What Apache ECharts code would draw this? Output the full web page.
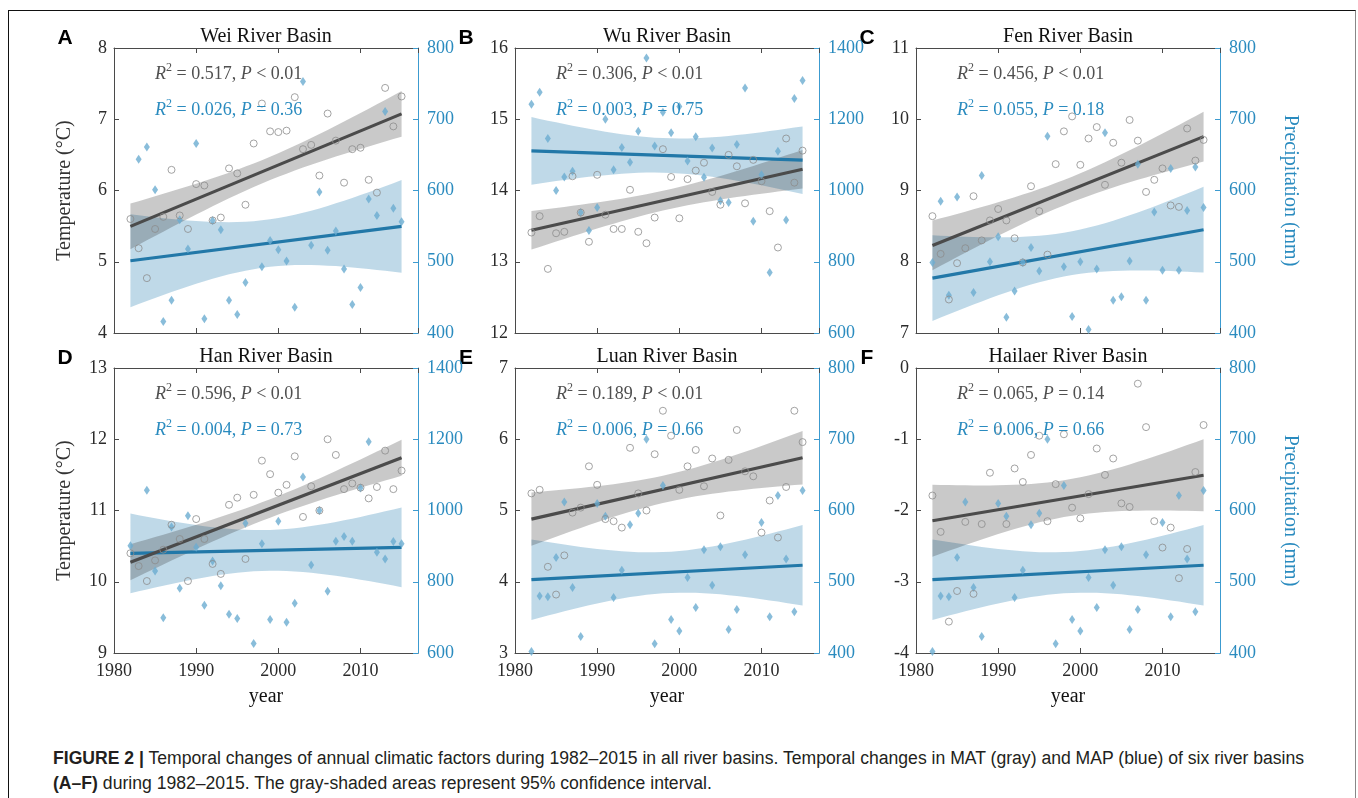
<!DOCTYPE html>
<html>
<head>
<meta charset="utf-8">
<script src="https://cdn.jsdelivr.net/npm/echarts@6/dist/echarts.min.js"></script>
<style>
    html, body { margin: 0; padding: 0; background: #fff; }
    #frame { position: absolute; left: 8px; top: 10px; width: 1346px; height: 820px;
        border-top: 1px solid #111; border-left: 1px solid #111; border-right: 1px solid #888; }
    #chart { position: absolute; left: 0; top: 0; width: 1358px; height: 720px; }
    #caption { position: absolute; left: 53px; top: 746px; white-space: nowrap;
        font-family: "Liberation Sans", Arial, sans-serif;
        font-size: 17.6px; line-height: 25px; color: #231f20; }
    #caption b { font-weight: bold; }
</style>
</head>
<body>
<div id="frame"></div>
<div id="chart"></div>
<div id="caption">
    <b>FIGURE 2 |</b> Temporal changes of annual climatic factors during 1982–2015 in all river basins. Temporal changes in MAT (gray) and MAP (blue) of six river basins<br>
    <b>(A–F)</b> during 1982–2015. The gray-shaded areas represent 95% confidence interval.
</div>
<script>
const years = [1982, 1983, 1984, 1985, 1986, 1987, 1988, 1989, 1990, 1991, 1992, 1993, 1994, 1995, 1996, 1997, 1998,
    1999, 2000, 2001, 2002, 2003, 2004, 2005, 2006, 2007, 2008, 2009, 2010, 2011, 2012, 2013, 2014, 2015];

// mean annual temperature (°C)
const tempWei = [5.60, 5.19, 4.77, 5.46, 5.63, 6.29, 5.65, 5.46, 6.09, 6.07, 5.58, 5.62, 6.31, 6.24, 5.80, 6.66, 7.22,
    6.83, 6.82, 6.84, 7.31, 6.58, 6.64, 6.21, 7.08, 6.70, 6.11, 6.58, 6.60, 6.15, 5.97, 7.44, 6.90, 7.32];
const tempWu = [13.41, 13.64, 12.90, 13.40, 13.42, 14.20, 13.69, 13.28, 14.22, 13.66, 13.46, 13.46, 14.01, 13.42, 13.26, 13.62, 14.58,
    14.19, 13.61, 14.16, 14.28, 14.39, 13.98, 13.80, 14.50, 14.34, 13.82, 14.43, 14.13, 13.71, 13.20, 14.73, 14.11, 14.56];
const tempFen = [8.64, 8.11, 7.47, 7.98, 8.19, 8.92, 8.30, 8.58, 8.74, 8.58, 8.33, 7.99, 9.06, 8.71, 8.10, 9.37, 9.83,
    10.04, 9.36, 9.73, 9.89, 9.08, 9.67, 9.39, 9.99, 9.70, 8.98, 9.15, 9.31, 8.79, 8.77, 9.87, 9.42, 9.71];
const tempHan = [10.40, 10.22, 10.01, 10.30, 10.45, 10.80, 10.60, 10.01, 10.88, 10.60, 10.25, 10.11, 11.08, 11.18, 10.32, 11.22, 11.70,
    11.51, 11.25, 11.36, 11.76, 10.91, 11.34, 11.00, 12.00, 11.78, 11.30, 11.38, 11.32, 11.17, 11.33, 11.84, 11.30, 11.56];
const tempLuan = [5.24, 5.29, 4.21, 3.82, 4.37, 4.97, 5.04, 5.62, 5.36, 4.88, 4.85, 4.76, 5.88, 5.24, 5.00, 5.79, 6.40,
    6.05, 5.29, 5.62, 5.85, 5.34, 5.73, 4.93, 5.71, 6.13, 5.55, 5.48, 4.69, 5.14, 4.62, 5.33, 6.40, 5.96];
const tempHailaer = [-1.79, -2.30, -3.56, -3.13, -2.16, -3.17, -2.19, -1.47, -0.87, -2.19, -1.41, -1.60, -1.22, -0.95, -2.15, -1.63, -0.93,
    -1.96, -2.11, -1.77, -1.13, -1.50, -1.27, -1.90, -1.95, -0.22, -0.83, -2.15, -2.52, -2.24, -2.95, -2.54, -1.46, -0.80];

// mean annual precipitation (mm), a few years fall outside the plotted range
const precWei = [365, 644, 661, 601, 416, 446, 559, 518, 666, 420, 558, 545, 446, 426, 471, 326, 493,
    530, 517, 501, 436, 753, 523, 598, 516, 543, 490, 440, 464, 588, 565, 711, 575, 556];
const precWu = [1242, 1276, 1146, 1000, 1038, 1054, 938, 888, 952, 1200, 1058, 1121, 1079, 1166, 1372, 1125, 1220,
    1162, 1236, 1083, 1151, 1037, 1119, 971, 966, 1129, 1288, 914, 1044, 770, 1110, 917, 1258, 1309];
const precFen = [499, 585, 453, 591, 340, 457, 621, 500, 535, 422, 459, 499, 520, 487, 676, 300, 493,
    423, 500, 405, 490, 681, 446, 451, 501, 637, 446, 570, 488, 631, 488, 572, 633, 576];
const precHan = [901, 1420, 1057, 830, 699, 954, 782, 985, 897, 734, 858, 789, 709, 697, 964, 627, 907,
    694, 970, 686, 740, 1094, 847, 1000, 773, 914, 927, 914, 1063, 1193, 883, 864, 913, 907];
const precLuan = [402, 480, 479, 534, 612, 492, 423, 385, 610, 592, 478, 516, 580, 596, 700, 413, 635,
    447, 431, 506, 464, 545, 495, 549, 433, 461, 538, 373, 583, 451, 621, 532, 458, 628];
const precHailaer = [402, 480, 479, 534, 612, 492, 423, 385, 610, 592, 478, 516, 580, 596, 700, 413, 635,
    447, 431, 506, 464, 545, 495, 549, 433, 461, 538, 373, 583, 451, 621, 532, 458, 628];

const titles = ['Wei River Basin', 'Wu River Basin', 'Fen River Basin', 'Han River Basin', 'Luan River Basin', 'Hailaer River Basin'];
const letters = ['A', 'B', 'C', 'D', 'E', 'F'];
const tempR2 = ['0.517', '0.306', '0.456', '0.596', '0.189', '0.065'];
const tempP = ['< 0.01', '< 0.01', '< 0.01', '< 0.01', '< 0.01', '= 0.14'];
const precR2 = ['0.026', '0.003', '0.055', '0.004', '0.006', '0.006'];
const precP = ['= 0.36', '= 0.75', '= 0.18', '= 0.73', '= 0.66', '= 0.66'];
const tempRange = [[4, 8], [12, 16], [7, 11], [9, 13], [3, 7], [-4, 0]];
const precRange = [[400, 800], [600, 1400], [400, 800], [600, 1400], [400, 800], [400, 800]];
const precStep = [100, 200, 100, 200, 100, 100];
const yearTicks = [1980, 2017, 10];

const temps = [tempWei, tempWu, tempFen, tempHan, tempLuan, tempHailaer];
const precs = [precWei, precWu, precFen, precHan, precLuan, precHailaer];

const GRAY_LINE = '#4b4b4b', GRAY_PT = '#8c8c8c', GRAY_BAND = 'rgba(40,40,40,0.25)';
const BLUE_LINE = '#2278a8', BLUE_PT = '#6badd1', BLUE_BAND = 'rgba(60,140,185,0.33)';
const BLUE_TXT = '#2a8bbf', AXIS_BLUE = '#3c9bd0', AXIS_GRAY = '#4a4a4a', LABEL = '#2b2b2b';
const SERIF = '"Liberation Serif", "Times New Roman", serif';

const lefts = [114, 515, 916], tops = [48, 368], W = 304, H = 285;

// least squares fit + 95% confidence band of the mean, like the original regression plot
function fitLine (xs, ys) {
    const n = xs.length;
    const mx = xs.reduce((a, b) => a + b, 0) / n;
    const my = ys.reduce((a, b) => a + b, 0) / n;
    let sxx = 0, sxy = 0;
    xs.forEach(function (x, i) { sxx += (x - mx) * (x - mx); sxy += (x - mx) * (ys[i] - my); });
    const b = sxy / sxx, a = my - b * mx;
    let sse = 0;
    xs.forEach(function (x, i) { const r = ys[i] - (a + b * x); sse += r * r; });
    const s = Math.sqrt(sse / (n - 2));
    const t = 2.0369; // t(0.975, 32)
    return xs.map(function (x) {
        const yh = a + b * x;
        const h = t * s * Math.sqrt(1 / n + (x - mx) * (x - mx) / sxx);
        return [x, yh, yh - h, yh + h];
    });
}

function bandSeries (fit, gi, yi, color) {
    return {
        type: 'custom', xAxisIndex: gi * 2, yAxisIndex: yi, silent: true, clip: true, z: 1,
        data: fit.map(d => [d[0], d[2], d[3]]),
        encode: { x: 0, y: [1, 2] },
        renderItem: function (params, api) {
            if (params.dataIndex !== 0) return null;
            const pts = [];
            fit.forEach(d => pts.push(api.coord([d[0], d[2]])));
            fit.slice().reverse().forEach(d => pts.push(api.coord([d[0], d[3]])));
            return { type: 'polygon', shape: { points: pts }, style: { fill: color } };
        }
    };
}

const plain = v => String(v);
const grid = [], xAxis = [], yAxis = [], series = [], graphic = [];

for (let i = 0; i < 6; i++) {
    const row = Math.floor(i / 3), col = i % 3;
    const left = lefts[col], top = tops[row];
    grid.push({ left: left, top: top, width: W, height: H });

    const xBase = {
        gridIndex: i, type: 'value', min: yearTicks[0], max: yearTicks[1], interval: yearTicks[2],
        splitLine: { show: false },
        axisLine: { show: true, onZero: false, lineStyle: { color: AXIS_GRAY, width: 1 } },
        axisTick: { show: true, inside: true, length: 5, lineStyle: { color: AXIS_GRAY } }
    };
    xAxis.push(Object.assign({}, xBase, {
        position: 'bottom',
        axisLabel: { show: row === 1, showMaxLabel: false, formatter: plain, color: LABEL, fontFamily: SERIF, fontSize: 18, margin: 9 }
    }));
    xAxis.push(Object.assign({}, xBase, { position: 'top', axisLabel: { show: false } }));

    yAxis.push({
        gridIndex: i, type: 'value', position: 'left', min: tempRange[i][0], max: tempRange[i][1], interval: 1,
        splitLine: { show: false },
        axisLine: { show: true, onZero: false, lineStyle: { color: AXIS_GRAY, width: 1 } },
        axisTick: { show: true, inside: true, length: 5, lineStyle: { color: AXIS_GRAY } },
        axisLabel: { formatter: plain, color: LABEL, fontFamily: SERIF, fontSize: 18, margin: 7 }
    });
    yAxis.push({
        gridIndex: i, type: 'value', position: 'right', min: precRange[i][0], max: precRange[i][1], interval: precStep[i],
        splitLine: { show: false },
        axisLine: { show: true, onZero: false, lineStyle: { color: AXIS_BLUE, width: 1 } },
        axisTick: { show: true, inside: true, length: 5, lineStyle: { color: AXIS_BLUE } },
        axisLabel: { formatter: plain, color: BLUE_TXT, fontFamily: SERIF, fontSize: 18, margin: 9 }
    });

    const tFit = fitLine(years, temps[i]);
    const pFit = fitLine(years, precs[i]);
    const ty = i * 2, py = i * 2 + 1;
    const last = years.length - 1;

    series.push(bandSeries(pFit, i, py, BLUE_BAND));
    series.push(bandSeries(tFit, i, ty, GRAY_BAND));
    series.push({
        type: 'line', xAxisIndex: i * 2, yAxisIndex: py, symbol: 'none', silent: true, z: 2,
        data: [[pFit[0][0], pFit[0][1]], [pFit[last][0], pFit[last][1]]],
        lineStyle: { color: BLUE_LINE, width: 3.2 }
    });
    series.push({
        type: 'line', xAxisIndex: i * 2, yAxisIndex: ty, symbol: 'none', silent: true, z: 2,
        data: [[tFit[0][0], tFit[0][1]], [tFit[last][0], tFit[last][1]]],
        lineStyle: { color: GRAY_LINE, width: 3.2 }
    });
    series.push({
        type: 'scatter', xAxisIndex: i * 2, yAxisIndex: py, symbol: 'diamond', symbolSize: [6, 9], z: 3,
        data: years.map((y, k) => [y, precs[i][k]]),
        itemStyle: { color: BLUE_PT }
    });
    series.push({
        type: 'scatter', xAxisIndex: i * 2, yAxisIndex: ty, symbol: 'circle', symbolSize: 7, z: 4,
        data: years.map((y, k) => [y, temps[i][k]]),
        itemStyle: { color: 'rgba(0,0,0,0)', borderColor: GRAY_PT, borderWidth: 1 }
    });

    // titles, panel letters, stats
    graphic.push({ type: 'text', x: left + W / 2, y: top - 11, style: {
        text: titles[i], font: '20px ' + SERIF, fill: '#111', textAlign: 'center', textVerticalAlign: 'middle' } });
    graphic.push({ type: 'text', x: left - 49, y: top - 10, style: {
        text: letters[i], font: 'bold 21px "Liberation Sans", Arial, sans-serif', fill: '#000', textAlign: 'center', textVerticalAlign: 'middle' } });
    const rich = {
        i: { font: 'italic 18px ' + SERIF, lineHeight: 24 },
        n: { font: '18px ' + SERIF, lineHeight: 24 },
        s: { font: '12px ' + SERIF, lineHeight: 14, verticalAlign: 'top' }
    };
    graphic.push({ type: 'text', x: left + 41, y: top + 26, z: 10, style: {
        text: '{i|R}{s|2}{n| = ' + tempR2[i] + ', }{i|P}{n| ' + tempP[i] + '}', font: '18px ' + SERIF, fill: '#505050',
        rich: rich, textVerticalAlign: 'middle' } });
    graphic.push({ type: 'text', x: left + 41, y: top + 62, z: 10, style: {
        text: '{i|R}{s|2}{n| = ' + precR2[i] + ', }{i|P}{n| ' + precP[i] + '}', font: '18px ' + SERIF, fill: BLUE_TXT,
        rich: rich, textVerticalAlign: 'middle' } });

    if (col === 0) {
        graphic.push({ type: 'text', x: 65, y: top + H / 2, rotation: Math.PI / 2, style: {
            text: 'Temperature (°C)', font: '20px ' + SERIF, fill: '#333', textAlign: 'center', textVerticalAlign: 'middle' } });
    }
    if (col === 2) {
        graphic.push({ type: 'text', x: 1290, y: top + H / 2, rotation: -Math.PI / 2, style: {
            text: 'Precipitation (mm)', font: '20px ' + SERIF, fill: BLUE_TXT, textAlign: 'center', textVerticalAlign: 'middle' } });
    }
    if (row === 1) {
        graphic.push({ type: 'text', x: left + W / 2, y: 697, style: {
            text: 'year', font: '20px ' + SERIF, fill: '#111', textAlign: 'center', textVerticalAlign: 'middle' } });
    }
}

const myChart = echarts.init(document.getElementById('chart'));
myChart.setOption({
    animation: false,
    backgroundColor: 'transparent',
    textStyle: { fontFamily: SERIF },
    grid: grid,
    xAxis: xAxis,
    yAxis: yAxis,
    series: series,
    graphic: graphic
});
</script>
</body>
</html>
